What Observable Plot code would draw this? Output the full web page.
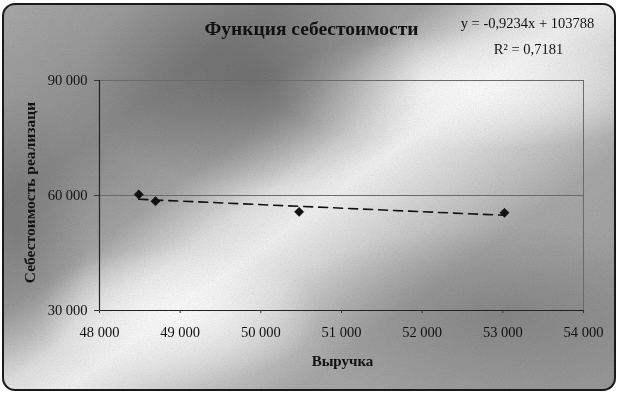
<!DOCTYPE html>
<html>
<head>
<meta charset="utf-8">
<script src="https://cdn.jsdelivr.net/npm/d3@7"></script>
<script src="https://cdn.jsdelivr.net/npm/@observablehq/plot@0.6"></script>
<style>
  html, body { margin: 0; padding: 0; background: #fff; }
  #wrap { position: relative; width: 620px; height: 398px; background: #fff; overflow: hidden; }
  #paper {
    position: absolute; left: 2px; top: 3px; width: 610px; height: 384px;
    border: 2px solid #1a1a1a; border-radius: 13px;
    background:
      radial-gradient(ellipse 170px 110px at 250px 75px, rgba(75,75,75,0.5), rgba(75,75,75,0) 100%),
      radial-gradient(ellipse 200px 60px at 470px 85px, rgba(255,255,255,0.85), rgba(255,255,255,0) 100%),
      radial-gradient(ellipse 140px 70px at 175px 310px, rgba(255,255,255,0.9), rgba(255,255,255,0) 100%),
      radial-gradient(ellipse 230px 90px at 500px 310px, rgba(100,100,100,0.45), rgba(100,100,100,0) 100%),
      radial-gradient(ellipse 70px 140px at 15px 230px, rgba(100,100,100,0.4), rgba(100,100,100,0) 100%),
      linear-gradient(144deg, #aaaaaa 0%, #8c8c8c 24%, #a4a4a4 37%, #e2e2e2 46%, #f3f3f3 52%, #d6d6d6 60%, #a9a9a9 72%, #9b9b9b 100%);
  }
  #noise {
    position: absolute; left: 2px; top: 3px; width: 614px; height: 388px; border-radius: 13px;
    opacity: 0.25; mix-blend-mode: multiply;
    background-image: url("data:image/svg+xml;utf8,<svg xmlns='http://www.w3.org/2000/svg' width='620' height='398'><filter id='n'><feTurbulence type='fractalNoise' baseFrequency='0.8' numOctaves='2' seed='3'/><feColorMatrix type='saturate' values='0'/></filter><rect width='100%' height='100%' filter='url(%23n)'/></svg>");
  }
  #chart { position: absolute; left: 0; top: 0; }
</style>
</head>
<body>
<div id="wrap">
  <div id="paper"></div>
  <div id="noise"></div>
  <div id="chart"></div>
</div>
<script>
// Data
const revenue = [48487, 48694, 50475, 53020];      // Выручка
const cost    = [60260, 58510, 55750, 55490];      // Себестоимость реализации
const xTicks  = [48000, 49000, 50000, 51000, 52000, 53000, 54000];
const yTicks  = [30000, 60000, 90000];
const trendSlope = -0.9234;
const trendIntercept = 103788;
const titleText = "Функция себестоимости";
const eqText = "y = -0,9234x + 103788";
const r2Text = "R² = 0,7181";
const xTitle = "Выручка";
const yTitle = "Себестоимость реализаци";

const points = revenue.map((x, i) => ({x, y: cost[i]}));
const xEnds = [d3.min(revenue), d3.max(revenue)];
const trend = xEnds.map(x => ({x, y: trendSlope * x + trendIntercept}));

const fmt = d => d3.format(",")(d).replace(/,/g, " ");
const serif = "'Liberation Serif', 'Times New Roman', serif";

const chart = Plot.plot({
  width: 620,
  height: 398,
  marginLeft: 99,
  marginRight: 37,
  marginTop: 80,
  marginBottom: 88,
  style: {background: "transparent", fontFamily: serif, fontSize: "14px", color: "#111"},
  x: {domain: [48000, 54000]},
  y: {domain: [30000, 90000]},
  marks: [
    Plot.frame({stroke: "#6a6a6a", strokeWidth: 1}),
    Plot.ruleY([60000], {stroke: "#6a6a6a", strokeWidth: 1}),
    Plot.ruleY([30000], {stroke: "#222", strokeWidth: 1.2}),
    Plot.ruleX([48000], {stroke: "#222", strokeWidth: 1.2}),
    Plot.axisY({ticks: yTicks, tickFormat: fmt, tickSize: 5, tickPadding: 7, label: null, fontSize: 14.5, stroke: "#333"}),
    Plot.axisX({ticks: xTicks, tickFormat: fmt, tickSize: 3, tickPadding: 13, label: null, fontSize: 14.5, stroke: "#333"}),
    Plot.line(trend, {x: "x", y: "y", stroke: "#111", strokeWidth: 1.6, strokeDasharray: "9,6"}),
    Plot.dot(points, {x: "x", y: "y", symbol: "diamond2", r: 4.2, fill: "#111", stroke: "#111", strokeWidth: 0.5}),
    Plot.text([titleText], {text: d => d, frameAnchor: "top", lineAnchor: "bottom", dx: -30, dy: -46, fontSize: 19.5, fontWeight: "bold", fill: "#111"}),
    Plot.text([eqText], {text: d => d, frameAnchor: "top", lineAnchor: "bottom", dx: 186, dy: -53, fontSize: 14.5, fill: "#111"}),
    Plot.text([r2Text], {text: d => d, frameAnchor: "top", lineAnchor: "bottom", dx: 187, dy: -27, fontSize: 14.5, fill: "#111"}),
    Plot.text([xTitle], {text: d => d, frameAnchor: "bottom", lineAnchor: "bottom", dx: 1, dy: 55, fontSize: 15, fontWeight: "bold", fill: "#111"}),
    Plot.text([yTitle], {text: d => d, frameAnchor: "left", textAnchor: "middle", rotate: -90, dx: -69, dy: -3, fontSize: 15.5, fontWeight: "bold", fill: "#111"})
  ]
});
document.getElementById("chart").appendChild(chart);
</script>
</body>
</html>
